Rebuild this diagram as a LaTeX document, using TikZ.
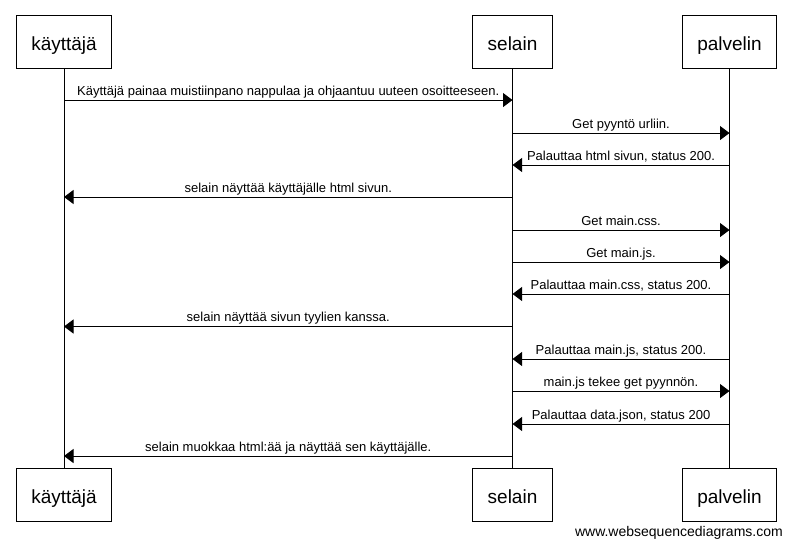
\documentclass[tikz,border=0pt]{standalone}
\usepackage{fontspec}
\setmainfont{Liberation Sans}
\usetikzlibrary{arrows.meta}

\tikzset{
    actor/.style={draw, line width=1pt, inner xsep=15pt, minimum height=53pt, text height=19pt, text depth=2pt, font=\fontsize{19}{22}\selectfont},
    msg/.style={line width=1pt, -{Triangle[length=9.5pt,width=14pt]}},
    lbl/.style={midway, anchor=base, yshift=5pt, inner sep=0pt, font=\fontsize{13}{15}\selectfont},
}

\begin{document}
\begin{tikzpicture}[x=1pt, y=-1pt]
        \useasboundingbox (0,0) rectangle (791,547);

        \node[actor] (kt) at ( 64.0, 41.5) {käyttäjä};
        \node[actor] (st) at (512.5, 41.5) {selain};
        \node[actor] (pt) at (729.5, 41.5) {palvelin};
        \node[actor] (kb) at ( 64.0,495.0) {käyttäjä};
        \node[actor] (sb) at (512.5,495.0) {selain};
        \node[actor] (pb) at (729.5,495.0) {palvelin};

        \draw[line width=1pt] (kt) -- (kb);
        \draw[line width=1pt] (st) -- (sb);
        \draw[line width=1pt] (pt) -- (pb);

        \draw[msg] (kt |- 0,100.0) -- node[lbl] {Käyttäjä painaa muistiinpano nappulaa ja ohjaantuu uuteen osoitteeseen.} (st |- 0,100.0);
        \draw[msg] (st |- 0,133.0) -- node[lbl] {Get pyyntö urliin.} (pt |- 0,133.0);
        \draw[msg] (pt |- 0,165.0) -- node[lbl] {Palauttaa html sivun, status 200.} (st |- 0,165.0);
        \draw[msg] (st |- 0,197.0) -- node[lbl] {selain näyttää käyttäjälle html sivun.} (kt |- 0,197.0);

        \draw[msg] (st |- 0,230.0) -- node[lbl] {Get main.css.} (pt |- 0,230.0);
        \draw[msg] (st |- 0,262.0) -- node[lbl] {Get main.js.} (pt |- 0,262.0);
        \draw[msg] (pt |- 0,294.0) -- node[lbl] {Palauttaa main.css, status 200.} (st |- 0,294.0);
        \draw[msg] (st |- 0,326.5) -- node[lbl] {selain näyttää sivun tyylien kanssa.} (kt |- 0,326.5);

        \draw[msg] (pt |- 0,359.0) -- node[lbl] {Palauttaa main.js, status 200.} (st |- 0,359.0);
        \draw[msg] (st |- 0,391.0) -- node[lbl] {main.js tekee get pyynnön.} (pt |- 0,391.0);
        \draw[msg] (pt |- 0,424.0) -- node[lbl] {Palauttaa data.json, status 200} (st |- 0,424.0);
        \draw[msg] (st |- 0,456.0) -- node[lbl] {selain muokkaa html:ää ja näyttää sen käyttäjälle.} (kt |- 0,456.0);

        \node[anchor=base east, inner sep=0pt, font=\fontsize{14}{16}\selectfont] (web) at (783.0,536.0) {www.websequencediagrams.com};
    \end{tikzpicture}
\end{document}
